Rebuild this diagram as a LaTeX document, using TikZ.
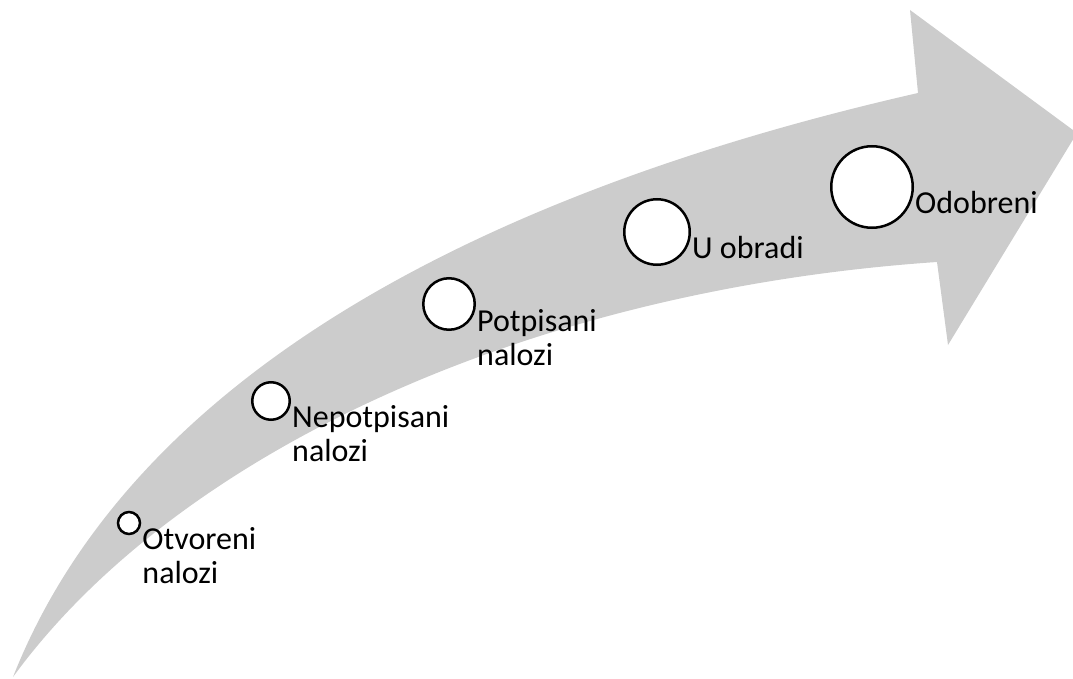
\documentclass[tikz,border=0pt]{standalone}
\usepackage{fontspec}
\setmainfont{Carlito}
\usetikzlibrary{calc}
\definecolor{arrowgray}{RGB}{204,204,204}
\tikzset{stage/.style={circle, draw, line width=2.5pt, fill=white, inner sep=0pt},
  stagetext/.style={anchor=base west, align=flush left, inner sep=0pt, text width=170pt,
    font=\fontsize{32}{34.5}\selectfont}}

\begin{document}
\begin{tikzpicture}[x=1pt,y=-1pt]
\useasboundingbox (0,0) rectangle (1073,679);
% curved arrow
\fill[arrowgray] (13,677) .. controls (150,330) and (580,170) .. (918,93) --
  (910,10) -- (1077,133) -- (948,345) -- (937,262)
  .. controls (525,290) and (175,455) .. (13,677) -- cycle;

\node[stage, minimum size=22pt] (otvoreni) at (129,523) {};
\node[stage, minimum size=37.5pt] (nepotpisani) at (271,401) {};
\node[stage, minimum size=51.5pt] (potpisani) at (449,304) {};
\node[stage, minimum size=65.5pt] (obrada) at (657,232) {};
\node[stage, minimum size=81.5pt] (odobreni) at (872,187) {};

\node[stagetext] (otvoreni text) at ($(otvoreni.east)+(1,26)$) {Otvoreni\\nalozi};
\node[stagetext] (nepotpisani text) at ($(nepotpisani.east)+(1,26)$) {Nepotpisani\\nalozi};
\node[stagetext] (potpisani text) at ($(potpisani.east)+(1,27)$) {Potpisani\\nalozi};
\node[stagetext] (obrada text) at ($(obrada.east)+(1,26)$) {U obradi};
\node[stagetext] (odobreni text) at ($(odobreni.east)+(1,26)$) {Odobreni};

\end{tikzpicture}
\end{document}
